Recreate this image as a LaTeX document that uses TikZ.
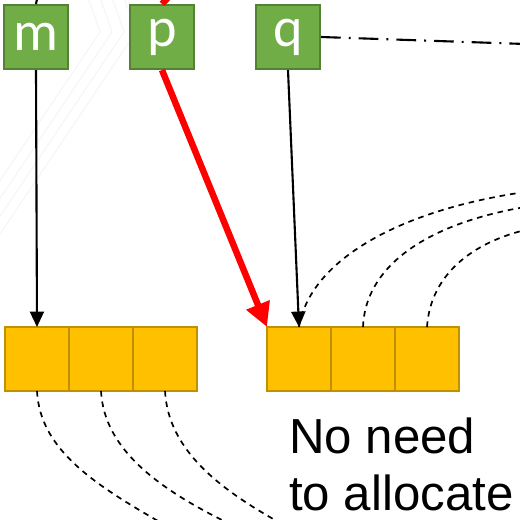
\documentclass[tikz,border=0pt]{standalone}
\usepackage{fontspec}
\setmainfont{Liberation Sans}
\newfontfamily\varfont{Carlito}
\usetikzlibrary{arrows.meta, positioning}
\definecolor{vargreen}{RGB}{112, 173, 71}
\definecolor{vardark}{RGB}{84, 130, 53}
\definecolor{cellgold}{RGB}{255, 192, 0}
\definecolor{celldark}{RGB}{191, 144, 0}
\definecolor{ptrred}{RGB}{255, 0, 0}

\begin{document}
\begin{tikzpicture}[
  x=0.025cm, y=-0.025cm,
  node distance=0pt,
  var/.style={rectangle, draw=vardark, fill=vargreen, line width=1.5pt,
              minimum size=1.6cm, inner sep=0pt, text=white,
              font=\varfont\fontsize{40}{40}\selectfont},
  cell/.style={rectangle, draw=celldark, fill=cellgold, line width=1.5pt,
               minimum size=1.6cm, outer sep=0pt},
  note/.style={align=left, inner sep=0pt, font=\fontsize{35}{40.5}\selectfont},
  arr/.style={-{Triangle[length=11pt, width=10pt]}, line width=1.5pt},
  redarr/.style={-{Triangle[length=17pt, width=17pt]}, line width=4.6pt, ptrred},
  link/.style={dashed, dash pattern=on 4pt off 3.5pt, line width=1.2pt},
  alias/.style={line width=1.5pt, dash pattern=on 14pt off 5.7pt on 1.4pt off 5.7pt}
]
  \useasboundingbox (0,0) rectangle (520,520);
  \clip (0,0) rectangle (520,520);

  % faint chevrons in the background
  \begin{scope}[draw=black!4, line width=0.8pt]
    \foreach \dx in {0,12,24,36}
      \draw (82+\dx,-20) -- (100+\dx,32) -- (\dx-40,240);
  \end{scope}

  % variables
  \node[var] (m) at (36,37) {m};
  \node[var] (p) at (162,37) {p};
  \node[var] (q) at (288,37) {q};

  % the two arrays
  \node[cell] (a1) at (37,359) {};
  \node[cell, right=of a1] (a2) {};
  \node[cell, right=of a2] (a3) {};
  \node[cell] (b1) at (299,359) {};
  \node[cell, right=of b1] (b2) {};
  \node[cell, right=of b2] (b3) {};

  \node[note, anchor=north west] (msg) at (289,418) {No need\\to allocate};

  % loose ends
  \coordinate (min) at (40,-15);
  \coordinate (pin) at (180,-15);
  \coordinate (qout) at (525,44);
  \coordinate (c1) at (525,192);
  \coordinate (c2) at (525,207);
  \coordinate (c3) at (525,230);
  \coordinate (d1) at (165,525);
  \coordinate (d2) at (232,525);
  \coordinate (d3) at (284,525);

  \draw[line width=1.5pt] (min) -- (m.north);
  \draw[line width=4.6pt, ptrred] (pin) -- (p.north);
  \draw[alias] (q.east) -- (qout);

  \draw[arr] (m.south) -- (a1.north);
  \draw[arr] (q.south) -- (b1.north);
  \draw[redarr] (p.south) -- (b1.north west);

  \draw[link] (b1.north) .. controls (310,260) and (400,210) .. (c1);
  \draw[link] (b2.north) .. controls (365,270) and (420,225) .. (c2);
  \draw[link] (b3.north) .. controls (430,280) and (465,245) .. (c3);

  \draw[link] (a1.south) .. controls (40,450) and (95,485) .. (d1);
  \draw[link] (a2.south) .. controls (104,450) and (160,490) .. (d2);
  \draw[link] (a3.south) .. controls (168,450) and (220,490) .. (d3);
\end{tikzpicture}
\end{document}
